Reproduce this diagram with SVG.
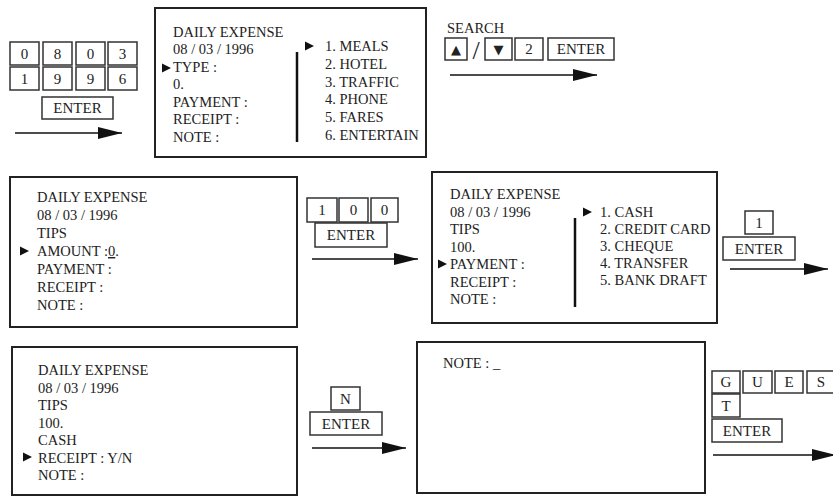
<svg xmlns="http://www.w3.org/2000/svg" width="833" height="498" viewBox="0 0 833 498">
<style>
text{font-family:"Liberation Serif","Times New Roman",serif;fill:#222}
.st{font-size:14.5px}
.kt{font-size:15px;text-anchor:middle}
.scr{fill:#fff;stroke:#222;stroke-width:2}
.key{fill:#fff;stroke:#333;stroke-width:1.5}
.div{stroke:#111;stroke-width:2.5}
.arr{stroke:#111;stroke-width:1.6;fill:none;marker-end:url(#ah)}
.sym{font-family:"DejaVu Sans",sans-serif;font-size:13px;text-anchor:middle}
</style>
<defs>
<marker id="ah" markerWidth="24" markerHeight="12" refX="24" refY="6" orient="auto" markerUnits="userSpaceOnUse">
<path d="M0,0 L24,6 L0,12 z" fill="#111"/>
</marker>
<path id="ptr" d="M0,-4.5 L9,0 L0,4.5 z" fill="#111"/>
</defs>
<rect width="833" height="498" fill="#fff"/>

<g id="keys-date">
<rect class="key" x="10" y="42" width="29" height="23"/>
<rect class="key" x="43" y="42" width="29" height="23"/>
<rect class="key" x="76" y="42" width="29" height="23"/>
<rect class="key" x="108" y="42" width="29" height="23"/>
<rect class="key" x="10" y="67" width="29" height="23"/>
<rect class="key" x="43" y="67" width="29" height="23"/>
<rect class="key" x="76" y="67" width="29" height="23"/>
<rect class="key" x="108" y="67" width="29" height="23"/>
<rect class="key" x="42" y="97" width="71" height="22"/>
<text class="kt" x="24.5" y="58.5">0</text>
<text class="kt" x="57.5" y="58.5">8</text>
<text class="kt" x="90.5" y="58.5">0</text>
<text class="kt" x="122.5" y="58.5">3</text>
<text class="kt" x="24.5" y="83.5">1</text>
<text class="kt" x="57.5" y="83.5">9</text>
<text class="kt" x="90.5" y="83.5">9</text>
<text class="kt" x="122.5" y="83.5">6</text>
<text class="kt" x="77.5" y="113">ENTER</text>
</g>

<g id="screen-type">
<rect class="scr" x="155" y="8" width="271" height="149"/>
<text class="st" x="173" y="36.5">DAILY EXPENSE</text>
<text class="st" x="173" y="54">08 / 03 / 1996</text>
<use href="#ptr" x="162" y="68"/>
<text class="st" x="173" y="71.5">TYPE :</text>
<text class="st" x="173" y="89">0.</text>
<text class="st" x="173" y="106.5">PAYMENT :</text>
<text class="st" x="173" y="124">RECEIPT :</text>
<text class="st" x="173" y="141.5">NOTE :</text>
<line class="div" x1="297" y1="52" x2="297" y2="142"/>
<use href="#ptr" x="305" y="46"/>
<text class="st" x="325" y="51">1. MEALS</text>
<text class="st" x="325" y="68.8">2. HOTEL</text>
<text class="st" x="325" y="86.6">3. TRAFFIC</text>
<text class="st" x="325" y="104.4">4. PHONE</text>
<text class="st" x="325" y="122.2">5. FARES</text>
<text class="st" x="325" y="140">6. ENTERTAIN</text>
</g>

<g id="keys-search">
<text class="st" x="447" y="33">SEARCH</text>
<rect class="key" x="445" y="38" width="22" height="22"/>
<text class="sym" x="456" y="54">▲</text>
<text class="kt" x="476" y="59" style="font-size:26px">/</text>
<rect class="key" x="485" y="38" width="27" height="22"/>
<text class="sym" x="498.5" y="54">▼</text>
<rect class="key" x="515" y="38" width="28" height="22"/>
<text class="kt" x="529" y="54">2</text>
<rect class="key" x="548" y="38" width="66" height="22"/>
<text class="kt" x="581" y="54">ENTER</text>
</g>

<g id="screen-amount">
<rect class="scr" x="10" y="177" width="287" height="150"/>
<text class="st" x="37" y="202">DAILY EXPENSE</text>
<text class="st" x="37" y="220">08 / 03 / 1996</text>
<text class="st" x="37" y="238">TIPS</text>
<use href="#ptr" x="20" y="251"/>
<text class="st" x="37" y="256">AMOUNT :<tspan text-decoration="underline">0</tspan>.</text>
<text class="st" x="37" y="274">PAYMENT :</text>
<text class="st" x="37" y="292">RECEIPT :</text>
<text class="st" x="37" y="310">NOTE :</text>
</g>

<g id="keys-amount">
<rect class="key" x="307" y="198" width="30" height="24"/>
<rect class="key" x="339" y="198" width="29" height="24"/>
<rect class="key" x="371" y="198" width="27" height="24"/>
<rect class="key" x="315" y="223" width="72" height="24"/>
<text class="kt" x="322" y="215">1</text>
<text class="kt" x="353.5" y="215">0</text>
<text class="kt" x="384.5" y="215">0</text>
<text class="kt" x="351" y="240">ENTER</text>
</g>

<g id="screen-payment">
<rect class="scr" x="432" y="172" width="285" height="151"/>
<text class="st" x="450" y="199">DAILY EXPENSE</text>
<text class="st" x="450" y="216.5">08 / 03 / 1996</text>
<text class="st" x="450" y="234">TIPS</text>
<text class="st" x="450" y="251.5">100.</text>
<use href="#ptr" x="438" y="264"/>
<text class="st" x="450" y="269">PAYMENT :</text>
<text class="st" x="450" y="286.5">RECEIPT :</text>
<text class="st" x="450" y="304">NOTE :</text>
<line class="div" x1="575" y1="218" x2="575" y2="307"/>
<use href="#ptr" x="583" y="212"/>
<text class="st" x="600" y="217">1. CASH</text>
<text class="st" x="600" y="234">2. CREDIT CARD</text>
<text class="st" x="600" y="251">3. CHEQUE</text>
<text class="st" x="600" y="268">4. TRANSFER</text>
<text class="st" x="600" y="285">5. BANK DRAFT</text>
</g>

<g id="keys-payment">
<rect class="key" x="745" y="211" width="28" height="23"/>
<rect class="key" x="723" y="237" width="72" height="23"/>
<text class="kt" x="759" y="227.5">1</text>
<text class="kt" x="759" y="253.5">ENTER</text>
</g>

<g id="screen-receipt">
<rect class="scr" x="12" y="347" width="285" height="148"/>
<text class="st" x="38" y="375">DAILY EXPENSE</text>
<text class="st" x="38" y="392.5">08 / 03 / 1996</text>
<text class="st" x="38" y="410">TIPS</text>
<text class="st" x="38" y="427.5">100.</text>
<text class="st" x="38" y="445">CASH</text>
<use href="#ptr" x="23" y="457"/>
<text class="st" x="38" y="462.5">RECEIPT : Y/N</text>
<text class="st" x="38" y="480">NOTE :</text>
</g>

<g id="keys-receipt">
<rect class="key" x="331" y="387" width="29" height="23"/>
<rect class="key" x="310" y="412" width="72" height="23"/>
<text class="kt" x="345.5" y="403.5">N</text>
<text class="kt" x="346" y="428.5">ENTER</text>
</g>

<g id="screen-note">
<rect class="scr" x="417" y="342" width="288" height="151"/>
<text class="st" x="443" y="368">NOTE : _</text>
</g>

<g id="keys-note">
<rect class="key" x="712" y="371" width="28" height="22"/>
<rect class="key" x="743" y="371" width="29" height="22"/>
<rect class="key" x="775" y="371" width="28" height="22"/>
<rect class="key" x="807" y="371" width="32" height="22"/>
<rect class="key" x="712" y="394" width="28" height="23"/>
<rect class="key" x="712" y="419" width="70" height="23"/>
<text class="kt" x="726" y="387">G</text>
<text class="kt" x="757.5" y="387">U</text>
<text class="kt" x="789" y="387">E</text>
<text class="kt" x="821" y="387">S</text>
<text class="kt" x="726" y="410.5">T</text>
<text class="kt" x="747" y="435.5">ENTER</text>
</g>

<g id="connectors">
<line class="arr" x1="15" y1="133" x2="122" y2="133"/>
<line class="arr" x1="450" y1="75" x2="597" y2="75"/>
<line class="arr" x1="312" y1="259" x2="418" y2="259"/>
<line class="arr" x1="730" y1="269" x2="828" y2="269"/>
<line class="arr" x1="312" y1="448" x2="406" y2="448"/>
<line class="arr" x1="713" y1="455" x2="836" y2="455"/>
</g>
</svg>
